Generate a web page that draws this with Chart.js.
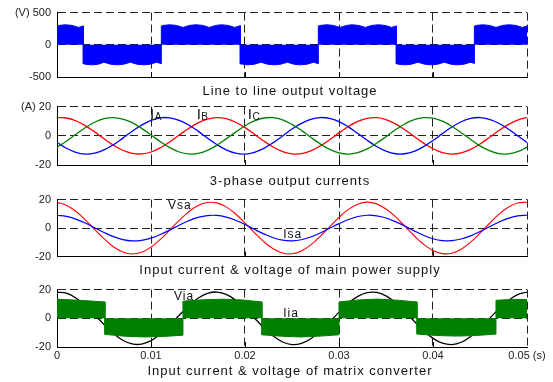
<!DOCTYPE html>
<html>
<head>
<meta charset="utf-8">
<script src="https://cdn.jsdelivr.net/npm/chart.js@4/dist/chart.umd.min.js"></script>
<style>
  html, body { margin: 0; padding: 0; background: #fff; }
  #page { position: relative; width: 553px; height: 382px; overflow: hidden; }
  #page canvas { position: absolute; left: 0; }
</style>
</head>
<body>
<div id="page">
  <canvas id="pVab" width="553" height="98" style="top:0px"></canvas>
  <canvas id="pIout" width="553" height="93" style="top:94px"></canvas>
  <canvas id="pSupply" width="553" height="90" style="top:187px"></canvas>
  <canvas id="pMc" width="553" height="105" style="top:277px"></canvas>
</div>
<script>
// ---- shared time axis (s) ----
const xTicks = [0, 0.01, 0.02, 0.03, 0.04, 0.05];
const xTickLabels = ['0', '0.01', '0.02', '0.03', '0.04', '0.05 (s)'];

// sample instants for the sinusoidal waveforms (s)
const sampleTime = [0, 0.001, 0.002, 0.003, 0.004, 0.005, 0.006, 0.007, 0.008, 0.009,
  0.010, 0.011, 0.012, 0.013, 0.014, 0.015, 0.016, 0.017, 0.018, 0.019,
  0.020, 0.021, 0.022, 0.023, 0.024, 0.025, 0.026, 0.027, 0.028, 0.029,
  0.030, 0.031, 0.032, 0.033, 0.034, 0.035, 0.036, 0.037, 0.038, 0.039,
  0.040, 0.041, 0.042, 0.043, 0.044, 0.045, 0.046, 0.047, 0.048, 0.049, 0.050];

// ---- line to line output voltage: PWM envelope (V) ----
const vabTime = [0, 0.0002, 0.0009, 0.0016, 0.0023, 0.0028,
  0.0028, 0.0030, 0.0037, 0.0044, 0.0050, 0.0057, 0.0064, 0.0071, 0.0078, 0.0085, 0.0092, 0.0099, 0.0106, 0.0111,
  0.0111, 0.0113, 0.0120, 0.0127, 0.0134, 0.0141, 0.0148, 0.0155, 0.0162, 0.0169, 0.0175, 0.0182, 0.0189, 0.0195,
  0.0195, 0.0203, 0.0210, 0.0217, 0.0224, 0.0231, 0.0238, 0.0245, 0.0252, 0.0259, 0.0266, 0.0273, 0.0278,
  0.0278, 0.0280, 0.0287, 0.0294, 0.0301, 0.0308, 0.0314, 0.0321, 0.0328, 0.0335, 0.0342, 0.0349, 0.0356, 0.0361,
  0.0361, 0.0363, 0.0370, 0.0377, 0.0384, 0.0391, 0.0398, 0.0405, 0.0412, 0.0419, 0.0426, 0.0433, 0.0440, 0.0444,
  0.0444, 0.0446, 0.0453, 0.0460, 0.0467, 0.0474, 0.0481, 0.0488, 0.0495, 0.0500];
const vabEnvelope = [295, 301, 311, 301, 270, 293,
  -293, -301, -311, -301, -270, -301, -311, -301, -270, -301, -311, -301, -270, -293,
  293, 301, 311, 301, 270, 301, 311, 301, 270, 301, 311, 301, 270, 296,
  -296, -311, -301, -270, -301, -311, -301, -270, -301, -311, -301, -270, -293,
  293, 301, 311, 301, 270, 301, 311, 301, 270, 301, 311, 301, 270, 293,
  -293, -301, -311, -301, -270, -301, -311, -301, -270, -301, -311, -301, -270, -290,
  290, 301, 311, 301, 270, 301, 311, 301, 270, 290];

// ---- 3-phase output currents (A) ----
const iaOut = [-4.6, -8.5, -11.3, -12.5, -11.9, -9.7, -6.1, -1.6, 3.1, 7.3,
  10.5, 12.3, 12.3, 10.6, 7.4, 3.2, -1.5, -6.0, -9.6, -11.9,
  -12.5, -11.3, -8.6, -4.7, -0.1, 4.6, 8.5, 11.3, 12.5, 11.9,
  9.7, 6.1, 1.6, -3.1, -7.3, -10.5, -12.3, -12.3, -10.6, -7.4,
  -3.2, 1.5, 6.0, 9.6, 11.9, 12.5, 11.3, 8.6, 4.7, 0.1, -4.6];
const ibOut = [12.4, 12.2, 10.3, 7.0, 2.7, -2.0, -6.4, -9.9, -12.0, -12.4,
  -11.1, -8.2, -4.2, 0.5, 5.0, 8.9, 11.5, 12.5, 11.7, 9.3,
  5.6, 1.1, -3.6, -7.7, -10.8, -12.4, -12.2, -10.3, -7.0, -2.7,
  2.0, 6.4, 9.9, 12.0, 12.4, 11.1, 8.2, 4.2, -0.5, -5.0,
  -8.9, -11.5, -12.5, -11.7, -9.3, -5.6, -1.1, 3.6, 7.7, 10.8, 12.4];
const icOut = [-7.8, -3.7, 1.0, 5.5, 9.3, 11.7, 12.5, 11.5, 9.0, 5.1,
  0.6, -4.1, -8.1, -11.1, -12.4, -12.1, -10.0, -6.5, -2.1, 2.5,
  6.9, 10.2, 12.2, 12.4, 10.9, 7.8, 3.7, -1.0, -5.5, -9.3,
  -11.7, -12.5, -11.5, -9.0, -5.1, -0.6, 4.1, 8.1, 11.1, 12.4,
  12.1, 10.0, 6.5, 2.1, -2.5, -6.9, -10.2, -12.2, -12.4, -10.9, -7.8];

// ---- main power supply: phase voltage and current ----
const vsa = [18.1, 16.1, 11.8, 5.8, -0.9, -7.5, -13.1, -16.8, -18.2, -17.0,
  -13.4, -8.0, -1.4, 5.4, 11.4, 15.8, 18.0, 17.7, 14.9, 9.9,
  3.6, -3.2, -9.6, -14.6, -17.6, -18.1, -16.1, -11.8, -5.8, 0.9,
  7.5, 13.1, 16.8, 18.2, 17.0, 13.4, 8.0, 1.4, -5.4, -11.4,
  -15.8, -18.0, -17.7, -14.9, -9.9, -3.6, 3.2, 9.6, 14.6, 17.6, 18.1];
const isa = [9.0, 8.2, 6.3, 3.5, 0.2, -3.1, -6.0, -8.1, -9.0, -8.6,
  -7.1, -4.5, -1.4, 2.0, 5.1, 7.5, 8.8, 8.9, 7.7, 5.5,
  2.5, -0.9, -4.1, -6.8, -8.5, -9.0, -8.2, -6.3, -3.5, -0.2,
  3.1, 6.0, 8.1, 9.0, 8.6, 7.1, 4.5, 1.4, -2.0, -5.1,
  -7.5, -8.8, -8.9, -7.7, -5.5, -2.5, 0.9, 4.1, 6.8, 8.5, 9.0];

// ---- matrix converter input: filtered voltage and PWM current envelope ----
const via = [18.3, 17.5, 14.2, 9.0, 2.5, -4.3, -10.6, -15.3, -17.9, -18.0,
  -15.6, -10.9, -4.8, 2.1, 8.6, 14.0, 17.3, 18.3, 16.7, 12.7,
  7.0, 0.2, -6.5, -12.4, -16.5, -18.3, -17.5, -14.2, -9.0, -2.5,
  4.3, 10.6, 15.3, 17.9, 18.0, 15.6, 10.9, 4.8, -2.1, -8.6,
  -14.0, -17.3, -18.3, -16.7, -12.7, -7.0, -0.2, 6.5, 12.4, 16.5, 18.3];
const iiaTime = [0, 0.0025, 0.0051,
  0.0051, 0.0072, 0.0093, 0.0114, 0.0134,
  0.0134, 0.0155, 0.0176, 0.0197, 0.0218,
  0.0218, 0.0239, 0.0259, 0.0280, 0.0300,
  0.0300, 0.0321, 0.0341, 0.0362, 0.0383,
  0.0383, 0.0404, 0.0425, 0.0446, 0.0467,
  0.0467, 0.0485, 0.0500];
const iiaEnvelope = [13.3, 12.5, 11.4,
  -11.2, -12.5, -13.0, -12.6, -11.8,
  11.9, 12.9, 13.3, 12.8, 11.4,
  -11.5, -12.5, -13.0, -12.4, -11.5,
  11.4, 12.8, 13.4, 12.6, 11.4,
  -11.0, -12.0, -12.4, -12.0, -11.0,
  12.5, 13.2, 13.0];

// ---- helpers ----
const FONT = '"Liberation Sans", Arial, Helvetica, sans-serif';
Chart.defaults.font.family = FONT;

const pts = (xs, ys) => xs.map((x, i) => ({ x: x, y: ys[i] }));

function wave(values, color, width) {
  return { data: pts(sampleTime, values), borderColor: color, borderWidth: width,
           pointRadius: 0, tension: 0.4, fill: false };
}
function band(times, values, color) {
  return { data: pts(times, values), borderColor: color, backgroundColor: color,
           borderWidth: 1, pointRadius: 0, tension: 0, fill: 'origin' };
}

// panel title, curve names and the short inward ticks on the time axis
const panelDecor = {
  id: 'panelDecor',
  beforeDatasetsDraw(chart) {
    const { ctx, chartArea: a, scales: { x } } = chart;
    ctx.save();
    ctx.strokeStyle = '#000';
    ctx.lineWidth = 1;
    ctx.beginPath();
    xTicks.slice(1, -1).forEach(v => {
      const px = Math.round(x.getPixelForValue(v)) + 0.5;
      ctx.moveTo(px, a.bottom);
      ctx.lineTo(px, a.bottom - 5);
    });
    ctx.stroke();
    ctx.restore();
  },
  afterDraw(chart, args, opts) {
    const { ctx, chartArea: a, scales: { x, y } } = chart;
    ctx.save();
    ctx.fillStyle = '#111';
    ctx.textBaseline = 'alphabetic';
    ctx.letterSpacing = '1px';
    ctx.font = '13px ' + FONT;
    ctx.textAlign = 'center';
    ctx.fillText(opts.title, (a.left + a.right) / 2 - 2, opts.titleY);
    ctx.textAlign = 'left';
    (opts.marks || []).forEach(m => {
      const px = x.getPixelForValue(m.t);
      const py = y.getPixelForValue(m.v);
      if (m.sub) {
        ctx.letterSpacing = '0px';
        ctx.font = '15px ' + FONT;
        ctx.fillText(m.text, px, py);
        const w = ctx.measureText(m.text).width;
        ctx.font = '10px ' + FONT;
        ctx.fillText(m.sub, px + w + 0.5, py + 0.8);
      } else {
        ctx.letterSpacing = '1px';
        ctx.font = '12px ' + FONT;
        ctx.fillText(m.text, px, py);
      }
    });
    ctx.restore();
  }
};

function buildPanel(id, p) {
  const gridOpts = { color: '#222', lineWidth: 1, drawTicks: false };
  const borderOpts = { display: true, color: '#000', width: 1, dash: [8, 4] };
  const tickFont = { family: FONT, size: 11 };
  return new Chart(document.getElementById(id), {
    type: 'line',
    data: { datasets: p.datasets },
    options: {
      responsive: false,
      animation: false,
      events: [],
      layout: { padding: { top: p.padTop, bottom: p.padBottom, left: 0, right: 26 } },
      plugins: {
        legend: { display: false },
        tooltip: { enabled: false },
        panelDecor: { title: p.title, titleY: p.titleY, marks: p.marks }
      },
      scales: {
        x: {
          type: 'linear', min: 0, max: 0.05,
          afterBuildTicks: s => { s.ticks = xTicks.map(v => ({ value: v })); },
          afterFit: s => { s.height = p.xLabels ? 16 : 0; },
          grid: gridOpts, border: borderOpts,
          ticks: { display: p.xLabels, padding: 2, maxRotation: 0, autoSkip: false,
                   color: '#222', font: tickFont, callback: (v, i) => xTickLabels[i] }
        },
        y: {
          type: 'linear', min: p.yTicks[0], max: p.yTicks[p.yTicks.length - 1],
          afterBuildTicks: s => { s.ticks = p.yTicks.map(v => ({ value: v })); },
          afterFit: s => { s.width = 57; },
          grid: gridOpts, border: borderOpts,
          ticks: { padding: 6, color: '#222', font: tickFont, callback: (v, i) => p.yLabels[i] }
        }
      }
    },
    plugins: [panelDecor]
  });
}

buildPanel('pVab', {
  datasets: [band(vabTime, vabEnvelope, '#0000ff')],
  yTicks: [-500, 0, 500], yLabels: ['-500', '0', '(V) 500'],
  padTop: 12, padBottom: 21, xLabels: false,
  title: 'Line to line output voltage', titleY: 95
});

buildPanel('pIout', {
  datasets: [wave(icOut, '#008000', 1.3), wave(iaOut, '#0000ff', 1.3), wave(ibOut, '#ff0000', 1.3)],
  yTicks: [-20, 0, 20], yLabels: ['-20', '0', '(A) 20'],
  padTop: 9, padBottom: 22, xLabels: false,
  title: '3-phase output currents', titleY: 90.5,
  marks: [
    { text: 'I', sub: 'A', t: 0.0099, v: 11.5 },
    { text: 'I', sub: 'B', t: 0.01486, v: 11.5 },
    { text: 'I', sub: 'C', t: 0.02029, v: 11.5 }
  ]
});

buildPanel('pSupply', {
  datasets: [wave(isa, '#0000ff', 1.2), wave(vsa, '#ff0000', 1.1)],
  yTicks: [-20, 0, 20], yLabels: ['-20', '0', '20'],
  padTop: 8, padBottom: 20.5, xLabels: false,
  title: 'Input current & voltage of main power supply', titleY: 87,
  marks: [
    { text: 'Vsa', t: 0.0118, v: 13.5 },
    { text: 'Isa', t: 0.02407, v: -6.7 }
  ]
});

buildPanel('pMc', {
  datasets: [band(iiaTime, iiaEnvelope, '#008000'), wave(via, '#000000', 1.3)],
  yTicks: [-20, 0, 20], yLabels: ['-20', '0', '20'],
  padTop: 8.5, padBottom: 19, xLabels: true,
  title: 'Input current & voltage of matrix converter', titleY: 97.5,
  marks: [
    { text: 'Via', t: 0.01245, v: 12.7 },
    { text: 'Iia', t: 0.02407, v: 0.8 }
  ]
});
</script>
</body>
</html>
